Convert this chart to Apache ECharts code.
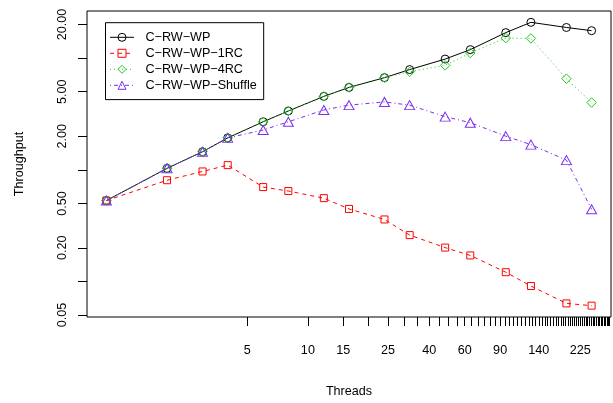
<!DOCTYPE html>
<html>
<head>
<meta charset="utf-8">
<script src="https://cdn.jsdelivr.net/npm/echarts@6/dist/echarts.min.js"></script>
<style>
html,body{margin:0;padding:0;background:#fff;}
#chart{width:613px;height:403px;}
</style>
</head>
<body>
<div id="chart"></div>
<script>
// ---- data (log-log plot) ----
const threads = [1, 2, 3, 4, 6, 8, 12, 16, 24, 32, 48, 64, 96, 128, 192, 256];
const seriesNames = ['C\u2212RW\u2212WP', 'C\u2212RW\u2212WP\u22121RC', 'C\u2212RW\u2212WP\u22124RC', 'C\u2212RW\u2212WP\u2212Shuffle'];
const rwwp        = [0.53, 1.03, 1.45, 1.93, 2.69, 3.36, 4.54, 5.46, 6.68, 7.89, 9.8, 11.9, 16.9, 20.9, 18.8, 17.6];
const rwwp1rc     = [0.53, 0.806, 0.966, 1.10, 0.70, 0.645, 0.557, 0.446, 0.359, 0.26, 0.201, 0.171, 0.121, 0.091, 0.0636, 0.0607];
const rwwp4rc     = [0.53, 1.03, 1.45, 1.93, 2.69, 3.36, 4.54, 5.46, 6.68, 7.54, 8.61, 11.1, 15.1, 15.0, 6.54, 4.0];
const rwwpShuffle = [0.53, 1.03, 1.45, 1.93, 2.27, 2.69, 3.43, 3.79, 4.05, 3.79, 2.99, 2.64, 2.0, 1.68, 1.22, 0.443];
const xTickValues  = []; for (let v = 5; v <= 315; v += 5) xTickValues.push(v);
const xLabelValues = [5, 10, 15, 25, 40, 60, 90, 140, 225];
const yTickValues  = [0.05, 0.1, 0.2, 0.5, 1, 2, 5, 10, 20];
const yLabelValues = [0.05, 0.2, 0.5, 2, 5, 20];

// ---- build ----
const L = Math.log10;
const allY = [].concat(rwwp, rwwp1rc, rwwp4rc, rwwpShuffle);
function rng(arr) {
  const lo = L(Math.min.apply(null, arr)), hi = L(Math.max.apply(null, arr));
  const p = 0.04 * (hi - lo);
  return [lo - p, hi + p];
}
const xr = rng(threads), yr = rng(allY);
const FONT = 'Liberation Sans, Arial, sans-serif';
const FS = 12.6;

const styles = [
  {color: '#000000', type: 'solid', symbol: 'circle', size: 8},
  {color: '#FF0000', type: [4, 4], symbol: 'rect', size: 7},
  {color: '#1FCB1F', type: [1, 3], symbol: 'diamond', size: 9.5},
  {color: '#7B2FF0', type: [1, 3, 4, 3], symbol: 'triangle', size: [10, 9]}
];
const values = [rwwp, rwwp1rc, rwwp4rc, rwwpShuffle];

const series = values.map((vals, i) => ({
  name: seriesNames[i],
  type: 'line',
  data: threads.map((t, j) => [L(t), L(vals[j])]),
  symbol: styles[i].symbol,
  symbolSize: styles[i].size,
  showAllSymbol: true,
  lineStyle: {color: styles[i].color, width: 1, type: styles[i].type},
  itemStyle: {color: 'rgba(0,0,0,0)', borderColor: styles[i].color, borderWidth: 1},
  emphasis: {disabled: true},
  animation: false
}));

const chart = echarts.init(document.getElementById('chart'), null, {renderer: 'canvas'});
chart.setOption({
  animation: false,
  backgroundColor: '#fff',
  textStyle: {fontFamily: FONT},
  grid: {left: 87, right: 2, top: 11, bottom: 80, show: true, borderColor: '#000', borderWidth: 1, backgroundColor: 'transparent'},
  legend: {
    orient: 'vertical', left: 105.5, top: 22.7,
    itemWidth: 24, itemHeight: 10, itemGap: 0,
    padding: [6.6, 7, 6.3, 4],
    borderColor: '#000', borderWidth: 1, borderRadius: 0,
    itemStyle: {borderWidth: 1},
    lineStyle: {width: 1},
    textStyle: {fontSize: FS, lineHeight: 16, color: '#000', fontFamily: FONT, padding: [0, 0, 0, 6.5]},
    data: seriesNames,
    selectedMode: false
  },
  xAxis: {
    type: 'value', min: xr[0], max: xr[1],
    name: 'Threads', nameLocation: 'middle', nameGap: 68,
    nameTextStyle: {fontSize: FS, color: '#000', fontFamily: FONT},
    axisLine: {show: false, onZero: false},
    splitLine: {show: false},
    axisTick: {show: true, length: 9, lineStyle: {color: '#000', width: 1}, customValues: xTickValues.map(L)},
    axisLabel: {show: true, margin: 27, fontSize: FS, color: '#000', fontFamily: FONT,
      customValues: xLabelValues.map(L),
      formatter: v => String(Math.round(Math.pow(10, v)))}
  },
  yAxis: {
    type: 'value', min: yr[0], max: yr[1],
    name: 'Throughput', nameLocation: 'middle', nameGap: 61, nameRotate: 90,
    nameTextStyle: {fontSize: FS, color: '#000', fontFamily: FONT},
    axisLine: {show: false, onZero: false},
    splitLine: {show: false},
    axisTick: {show: true, length: 9, lineStyle: {color: '#000', width: 1}, customValues: yTickValues.map(L)},
    axisLabel: {show: true, margin: 18, rotate: 90, fontSize: FS, color: '#000', fontFamily: FONT,
      customValues: yLabelValues.map(L),
      formatter: v => Math.pow(10, v).toFixed(2)}
  },
  series: series
});
</script>
</body>
</html>
